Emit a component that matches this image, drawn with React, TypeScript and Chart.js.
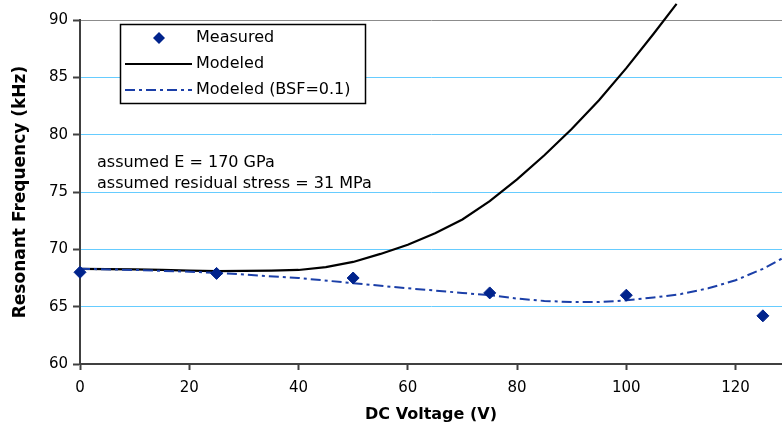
import React, { useEffect, useRef } from 'react';
import { Chart, registerables } from 'chart.js';

Chart.register(...registerables);

const FONT = "'DejaVu Sans', Verdana, sans-serif";

// Measured data (DC voltage in V, resonant frequency in kHz)
const measuredV = [0, 25, 50, 75, 100, 125];
const measuredF = [68.0, 67.9, 67.5, 66.2, 66.0, 64.2];

// Modeled curve
const modeledV = [0, 5, 10, 15, 20, 25, 30, 35, 40, 45, 50, 55, 60, 65, 70, 75, 80, 85, 90, 95, 100, 105, 109.2];
const modeledF = [68.3, 68.28, 68.25, 68.2, 68.15, 68.1, 68.12, 68.15, 68.2, 68.45, 68.9, 69.6, 70.4, 71.4, 72.6, 74.2, 76.1, 78.2, 80.5, 83.0, 85.8, 88.8, 91.4];

// Modeled curve with BSF = 0.1
const bsfV = [0, 10, 20, 25, 30, 40, 50, 60, 70, 75, 80, 85, 90, 95, 100, 105, 110, 115, 120, 125, 128.5];
const bsfF = [68.3, 68.2, 68.05, 67.95, 67.8, 67.5, 67.05, 66.6, 66.2, 66.0, 65.7, 65.5, 65.4, 65.4, 65.55, 65.8, 66.1, 66.6, 67.3, 68.3, 69.2];

const legendLabels = ['Measured', 'Modeled', 'Modeled (BSF=0.1)'];
const noteLines = ['assumed E = 170 GPa', 'assumed residual stress = 31 MPa'];

const xTitle = 'DC Voltage (V)';
const yTitle = 'Resonant Frequency (kHz)';
const xTickValues = [0, 20, 40, 60, 80, 100, 120];
const xMin = 0, xMax = 128.5;
const yMin = 60, yMax = 90, yStep = 5;

const MARKER = '#00238C';
const BSF_COLOR = '#1B3FA8';
const BSF_DASH = [10, 4, 3, 4];
const GRID = '#66CCFF';

const toPts = (xs: number[], ys: number[]) => xs.map((x, i) => ({ x, y: ys[i] }));

export default function App() {
  const ref = useRef<HTMLCanvasElement>(null);

  useEffect(() => {
    if (!ref.current) return;

    const overlay = {
      id: 'overlay',
      afterDraw(chart: any) {
        const ctx = chart.ctx as CanvasRenderingContext2D;
        ctx.save();
        // legend box
        const bx = 120.5, by = 24.5, bw = 245, bh = 79;
        ctx.fillStyle = '#ffffff';
        ctx.fillRect(bx, by, bw, bh);
        ctx.strokeStyle = '#000000';
        ctx.lineWidth = 1.5;
        ctx.strokeRect(bx, by, bw, bh);

        const rows = [38, 64, 90];
        ctx.font = `16px ${FONT}`;
        ctx.fillStyle = '#000';
        ctx.textBaseline = 'middle';
        ctx.textAlign = 'left';
        legendLabels.forEach((t, i) => ctx.fillText(t, 196, rows[i]));

        // marker
        const cx = 159, cy = rows[0], r = 6;
        ctx.fillStyle = MARKER;
        ctx.beginPath();
        ctx.moveTo(cx, cy - r);
        ctx.lineTo(cx + r, cy);
        ctx.lineTo(cx, cy + r);
        ctx.lineTo(cx - r, cy);
        ctx.closePath();
        ctx.fill();

        // solid line
        ctx.strokeStyle = '#000';
        ctx.lineWidth = 2;
        ctx.beginPath();
        ctx.moveTo(125, rows[1]);
        ctx.lineTo(192, rows[1]);
        ctx.stroke();

        // dash-dot line
        ctx.strokeStyle = BSF_COLOR;
        ctx.setLineDash(BSF_DASH);
        ctx.beginPath();
        ctx.moveTo(125, rows[2]);
        ctx.lineTo(192, rows[2]);
        ctx.stroke();
        ctx.setLineDash([]);

        // notes
        ctx.fillStyle = '#000';
        ctx.font = `16px ${FONT}`;
        ctx.fillText(noteLines[0], 97, 163);
        ctx.fillText(noteLines[1], 97, 184);
        ctx.restore();
      },
    };

    const chart = new Chart(ref.current, {
      type: 'scatter',
      data: {
        datasets: [
          {
            label: legendLabels[0],
            data: toPts(measuredV, measuredF),
            showLine: false,
            pointStyle: 'rectRot',
            pointRadius: 6,
            pointBackgroundColor: MARKER,
            pointBorderColor: MARKER,
            pointBorderWidth: 1,
            clip: false,
            order: 0,
          },
          {
            label: legendLabels[1],
            data: toPts(modeledV, modeledF),
            showLine: true,
            borderColor: '#000000',
            borderWidth: 2.2,
            pointRadius: 0,
            tension: 0,
            clip: false,
            order: 2,
          },
          {
            label: legendLabels[2],
            data: toPts(bsfV, bsfF),
            showLine: true,
            borderColor: BSF_COLOR,
            borderWidth: 2,
            borderDash: BSF_DASH,
            pointRadius: 0,
            tension: 0,
            clip: false,
            order: 1,
          },
        ] as any,
      },
      options: {
        animation: false,
        responsive: false,
        maintainAspectRatio: false,
        layout: { autoPadding: false, padding: { top: 20, right: 0, left: 0, bottom: 0 } },
        plugins: {
          legend: { display: false },
          tooltip: { enabled: false },
        },
        scales: {
          x: {
            type: 'linear',
            min: xMin,
            max: xMax,
            afterBuildTicks: (scale: any) => {
              scale.ticks = xTickValues.map((v) => ({ value: v }));
            },
            afterFit: (scale: any) => {
              scale.height = 70;
              scale.paddingLeft = 0;
              scale.paddingRight = 0;
            },
            ticks: {
              autoSkip: false,
              maxRotation: 0,
              padding: 9,
              color: '#000',
              font: { family: FONT, size: 15 },
            },
            grid: {
              drawOnChartArea: false,
              drawTicks: true,
              tickLength: 6,
              tickColor: '#404040',
              tickWidth: 2,
            },
            border: { color: '#404040', width: 2 },
            title: {
              display: true,
              text: xTitle,
              color: '#000',
              font: { family: FONT, size: 16, weight: 'bold' },
              padding: { top: 10, bottom: 10 },
            },
          },
          y: {
            type: 'linear',
            min: yMin,
            max: yMax,
            afterFit: (scale: any) => {
              scale.width = 80;
              scale.paddingTop = 0;
              scale.paddingBottom = 0;
            },
            ticks: {
              stepSize: yStep,
              padding: 5,
              color: '#000',
              font: { family: FONT, size: 15 },
            },
            grid: {
              drawOnChartArea: true,
              tickLength: 7,
              tickColor: '#404040',
              tickWidth: 2,
              lineWidth: 1,
              color: (c: any) => {
                const v = c.tick && c.tick.value;
                if (v === yMin) return 'rgba(0,0,0,0)';
                if (v === yMax) return '#8c8c8c';
                return GRID;
              },
            },
            border: { color: '#404040', width: 2 },
            title: {
              display: true,
              text: yTitle,
              color: '#000',
              font: { family: FONT, size: 17, weight: 'bold' },
              padding: { top: 10, bottom: 10 },
            },
          },
        },
      } as any,
      plugins: [overlay],
    });

    return () => chart.destroy();
  }, []);

  return (
    <div style={{ position: 'absolute', left: 0, top: 0, width: 782, height: 434, background: '#ffffff' }}>
      <canvas ref={ref} width={782} height={434} style={{ display: 'block', width: 782, height: 434 }} />
    </div>
  );
}
